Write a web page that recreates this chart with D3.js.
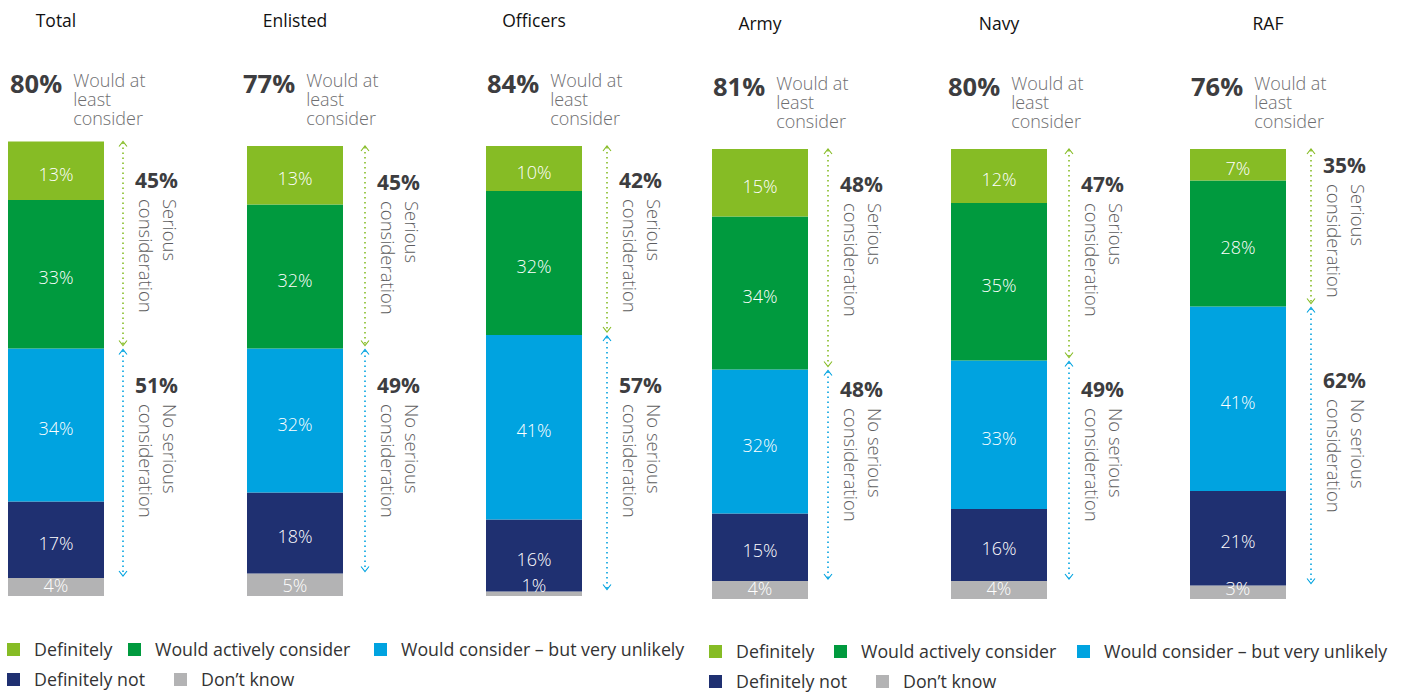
<!DOCTYPE html>
<html>
<head>
<meta charset="utf-8">
<script src="https://cdn.jsdelivr.net/npm/d3@7"></script>
<style>
  body { margin: 0; background: #fff; }
  svg { display: block; font-family: "Open Sans", sans-serif; }
</style>
</head>
<body>
<svg id="chart" width="1403" height="693"></svg>
<script>
// ---- data -------------------------------------------------------------
const groups = ["Total", "Enlisted", "Officers", "Army", "Navy", "RAF"];
const seriesNames = ["Definitely", "Would actively consider", "Would consider – but very unlikely", "Definitely not", "Don’t know"];
const definitely       = [13, 13, 10, 15, 12, 7];
const activelyConsider = [33, 32, 32, 34, 35, 28];
const veryUnlikely     = [34, 32, 41, 32, 33, 41];
const definitelyNot    = [17, 18, 16, 15, 16, 21];
const dontKnow         = [4, 5, 1, 4, 4, 3];
const atLeastConsider  = [80, 77, 84, 81, 80, 76];
const seriousPct       = [45, 45, 42, 48, 47, 35];
const noSeriousPct     = [51, 49, 57, 48, 49, 62];

// ---- layout -----------------------------------------------------------
const panelX      = [8, 247, 486, 712, 951, 1190];   // left edge of each bar
const panelDy     = [0, 0, 0, 3, 3, 3];               // vertical shift of each panel
const titleShift  = [0, 0, 0, 0, 0, 30];
const bigPctShift = [2, -4, 1, 1, -3, 1];
const arrowOffset = [115, 118, 121, 116, 118, 121];
const seriousY    = [188, 190, 188, 189, 189, 170];
const noSeriousY  = [393, 393, 393, 394, 394, 385];
const barWidth = 96;
const baseBottom = 596;

const colors = ["#86bc25", "#009a3e", "#00a3e0", "#1f3071", "#b3b3b4"];
const color = d3.scaleOrdinal().domain(seriesNames).range(colors);

const rows = groups.map((g, i) => ({
  group: g,
  [seriesNames[0]]: definitely[i],
  [seriesNames[1]]: activelyConsider[i],
  [seriesNames[2]]: veryUnlikely[i],
  [seriesNames[3]]: definitelyNot[i],
  [seriesNames[4]]: dontKnow[i]
}));

// stacked from the bottom up: Don't know first, Definitely on top
const stacked = d3.stack().keys(seriesNames.slice().reverse())(rows);
const byKey = {};
stacked.forEach(s => byKey[s.key] = s);

const h = d3.scaleLinear().domain([0, 100]).range([0, 450]);
const xPanel = d3.scaleOrdinal().domain(groups).range(panelX);

const svg = d3.select("#chart");

groups.forEach((g, i) => {
  const bx = xPanel(g);
  const bottom = baseBottom + panelDy[i];
  const yv = v => bottom - h(v);
  const p = svg.append("g").attr("class", "panel");

  // panel title
  p.append("text")
    .attr("x", bx + barWidth / 2 + titleShift[i])
    .attr("y", 27 + panelDy[i])
    .attr("text-anchor", "middle")
    .attr("font-size", 17.5)
    .attr("fill", "#111")
    .text(g);

  // headline: share that would at least consider
  const big = p.append("text")
    .attr("x", bx + bigPctShift[i])
    .attr("y", 93 + panelDy[i])
    .attr("font-size", 25.5)
    .attr("font-weight", 700)
    .attr("fill", "#3d3d40")
    .text(atLeastConsider[i] + "%");
  const bigEnd = bx + bigPctShift[i] + big.node().getComputedTextLength();
  ["Would at", "least", "consider"].forEach((t, k) => {
    p.append("text")
      .attr("x", bigEnd + 11)
      .attr("y", 87 + panelDy[i] + k * 19)
      .attr("font-size", 18)
      .attr("font-weight", 300)
      .attr("fill", "#6e6e70")
      .text(t);
  });

  // stacked segments
  stacked.forEach(s => {
    const d = s[i];
    p.append("rect")
      .attr("x", bx)
      .attr("y", yv(d[1]))
      .attr("width", barWidth)
      .attr("height", h(d[1]) - h(d[0]))
      .attr("fill", color(s.key));
  });

  // segment value labels
  stacked.forEach(s => {
    const d = s[i];
    const v = d[1] - d[0];
    const isBottom = s.key === seriesNames[4];
    const cy = isBottom ? bottom - 4 : (yv(d[1]) + yv(d[0])) / 2 + 10;
    p.append("text")
      .attr("x", bx + barWidth / 2)
      .attr("y", cy)
      .attr("text-anchor", "middle")
      .attr("font-size", 18)
      .attr("font-weight", 300)
      .attr("fill", "#fff")
      .text(v + "%");
  });

  // range arrows
  const ax = bx + arrowOffset[i];
  const topY = yv(byKey[seriesNames[0]][i][1]);
  const midY = yv(byKey[seriesNames[2]][i][1]);
  const lowY = yv(byKey[seriesNames[4]][i][1]);

  const arrow = (y1, y2, col) => {
    p.append("line")
      .attr("x1", ax).attr("x2", ax)
      .attr("y1", y1 + 1).attr("y2", y2 - 1)
      .attr("stroke", col)
      .attr("stroke-width", 1.6)
      .attr("stroke-dasharray", "1.6,3.4");
    p.append("path")
      .attr("d", `M${ax - 4},${y1 + 5}L${ax},${y1}L${ax + 4},${y1 + 5}`)
      .attr("fill", "none").attr("stroke", col).attr("stroke-width", 1.1);
    p.append("path")
      .attr("d", `M${ax - 4},${y2 - 5}L${ax},${y2}L${ax + 4},${y2 - 5}`)
      .attr("fill", "none").attr("stroke", col).attr("stroke-width", 1.1);
  };
  arrow(topY, midY - 3, colors[0]);
  arrow(midY + 1, lowY - 2, colors[2]);

  // range labels
  const lx = ax + 12;
  const rangeLabel = (pct, ly, lines) => {
    p.append("text")
      .attr("x", lx).attr("y", ly)
      .attr("font-size", 21)
      .attr("font-weight", 700)
      .attr("fill", "#3d3d40")
      .text(pct + "%");
    const r = p.append("g").attr("transform", `translate(${lx},${ly + 11}) rotate(90)`);
    r.append("text").attr("x", 0).attr("y", -28)
      .attr("font-size", 18.5).attr("font-weight", 300).attr("fill", "#5d5d60").text(lines[0]);
    r.append("text").attr("x", 0).attr("y", -4)
      .attr("font-size", 18.5).attr("font-weight", 300).attr("fill", "#5d5d60").text(lines[1]);
  };
  rangeLabel(seriousPct[i], seriousY[i] + panelDy[i], ["Serious", "consideration"]);
  rangeLabel(noSeriousPct[i], noSeriousY[i] + panelDy[i], ["No serious", "consideration"]);
});

// ---- legends (one under each half) -----------------------------------
const legendLayouts = [
  { rows: [[7, 128, 374], [7, 174]], y: [643, 673] },
  { rows: [[709, 834, 1077], [709, 876]], y: [645, 675] }
];
const legendRows = [[0, 1, 2], [3, 4]];

legendLayouts.forEach(L => {
  const lg = svg.append("g").attr("class", "legend");
  legendRows.forEach((row, r) => {
    row.forEach((si, k) => {
      const x = L.rows[r][k];
      const yTop = L.y[r];
      lg.append("rect")
        .attr("x", x).attr("y", yTop)
        .attr("width", 13).attr("height", 13)
        .attr("fill", color(seriesNames[si]));
      lg.append("text")
        .attr("x", x + 27).attr("y", yTop + 13)
        .attr("font-size", 17.8)
        .attr("fill", "#333")
        .text(seriesNames[si]);
    });
  });
});
</script>
</body>
</html>
